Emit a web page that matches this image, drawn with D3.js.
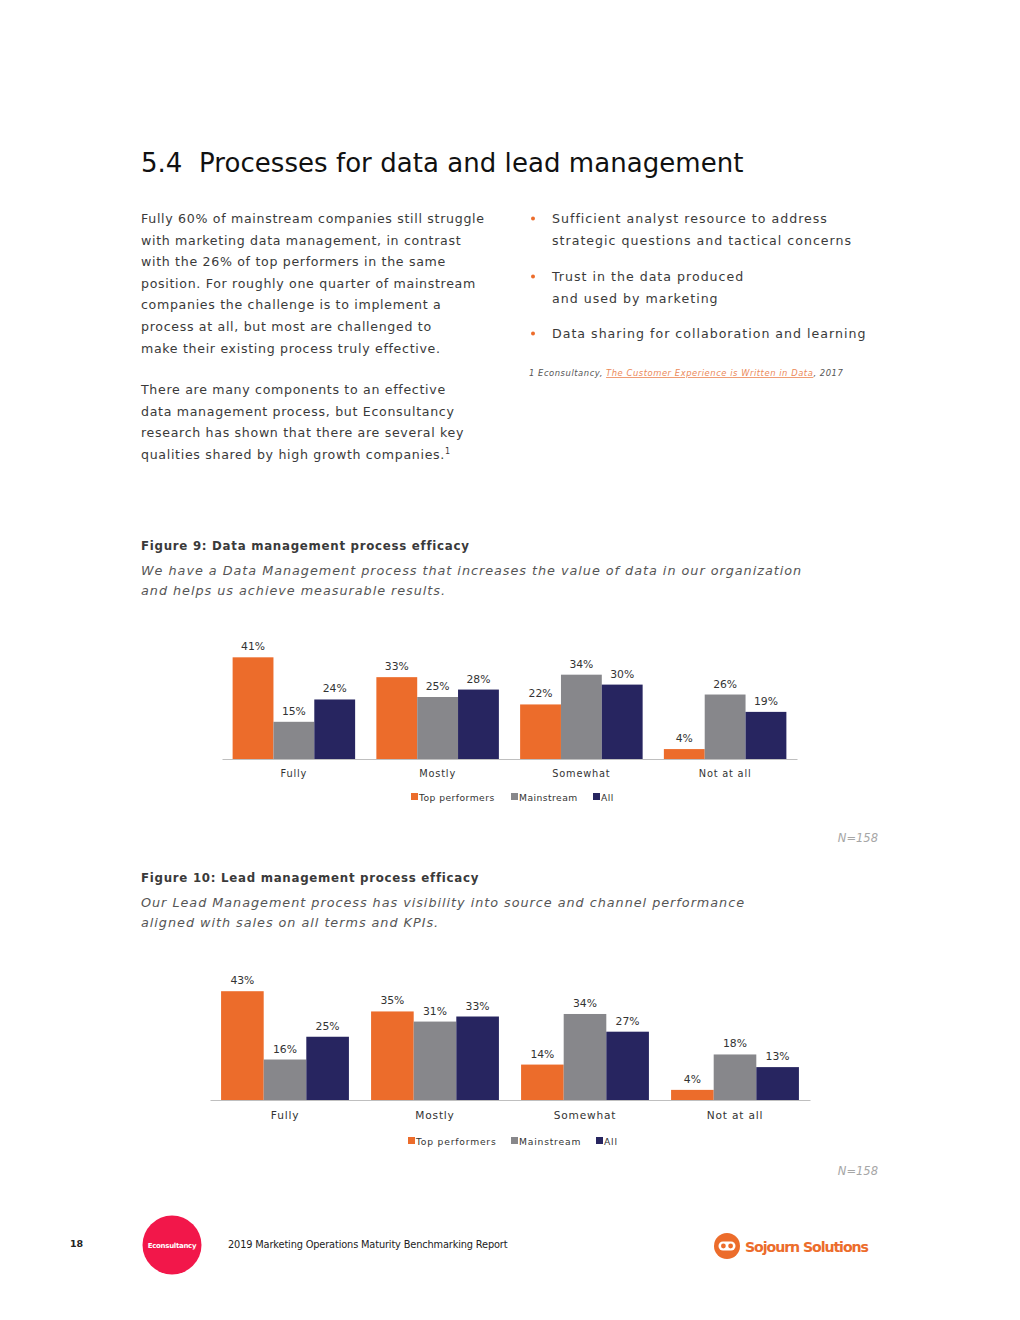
<!DOCTYPE html>
<html lang="en">
<head>
  <meta charset="UTF-8">
  <title>Processes for data and lead management</title>
  <style>
    html, body { margin: 0; padding: 0; background: #fff; }
    svg { display: block; }
  </style>
</head>
<body>
  <script src="https://d3js.org/d3.v7.min.js"></script>
  <script>
    const categories = ["Fully", "Mostly", "Somewhat", "Not at all"];
    const seriesNames = ["Top performers", "Mainstream", "All"];
    const seriesColors = ["#ec6c2b", "#87878b", "#272560"];

    // Figure 9: data management
    const fig9Top = [41, 33, 22, 4];
    const fig9Mainstream = [15, 25, 34, 26];
    const fig9All = [24, 28, 30, 19];

    // Figure 10: lead management
    const fig10Top = [43, 35, 14, 4];
    const fig10Mainstream = [16, 31, 34, 18];
    const fig10All = [25, 33, 27, 13];

    const [width, height] = [1020, 1320];
    const font = "'DejaVu Sans', sans-serif";
    const textColor = "#3a3a3a";

    const svg = d3
      .select(document.body)
      .append("svg")
      .attr("width", width)
      .attr("height", height)
      .attr("viewBox", [0, 0, width, height])
      .attr("font-family", font);

    // heading
    const h = svg.append("text")
      .attr("y", 172)
      .attr("font-size", 26)
      .attr("fill", "#111");
    h.append("tspan").attr("x", 141).text("5.4");
    h.append("tspan").attr("x", 199).attr("letter-spacing", 0.05).text("Processes for data and lead management");

    const addLines = (lines, x, y0, lh, attrs) => {
      const t = svg.append("g");
      lines.forEach((l, i) => {
        const s = t.append("text").attr("x", x).attr("y", y0 + i * lh).text(l);
        Object.entries(attrs).forEach(([k, v]) => s.attr(k, v));
      });
      return t;
    };

    const bodyAttrs = { "font-size": 12.6, fill: textColor, "letter-spacing": 0.68 };
    addLines([
      "Fully 60% of mainstream companies still struggle",
      "with marketing data management, in contrast",
      "with the 26% of top performers in the same",
      "position. For roughly one quarter of mainstream",
      "companies the challenge is to implement a",
      "process at all, but most are challenged to",
      "make their existing process truly effective."
    ], 141, 223, 21.6, bodyAttrs);

    const p2 = addLines([
      "There are many components to an effective",
      "data management process, but Econsultancy",
      "research has shown that there are several key",
      "qualities shared by high growth companies."
    ], 141, 394, 21.6, bodyAttrs);
    p2.select("text:last-child").append("tspan")
      .attr("font-size", 8).attr("dy", -5).text("1");

    // bullets
    const bullets = [
      ["Sufficient analyst resource to address", "strategic questions and tactical concerns"],
      ["Trust in the data produced", "and used by marketing"],
      ["Data sharing for collaboration and learning"]
    ];
    const bulletY = [223, 281, 338];
    const bulletAttrs = { ...bodyAttrs, "letter-spacing": 1.0 };
    bullets.forEach((b, i) => {
      svg.append("circle").attr("cx", 533).attr("cy", bulletY[i] - 4.5).attr("r", 2).attr("fill", "#ec6c2b");
      addLines(b, 552, bulletY[i], 21.6, bulletAttrs);
    });

    // footnote
    const fn = svg.append("text")
      .attr("x", 529).attr("y", 376)
      .attr("font-size", 8.4)
      .attr("font-style", "italic")
      .attr("fill", "#555")
      .attr("letter-spacing", 0.55);
    fn.append("tspan").text("1   Econsultancy, ");
    fn.append("tspan").attr("fill", "#ec8a5a").attr("text-decoration", "underline")
      .text("The Customer Experience is Written in Data");
    fn.append("tspan").text(", 2017");

    function drawFigure(cfg) {
      const { top, titleText, subtitle, values, baseline, left, right, pxPerPct, nY } = cfg;

      svg.append("text")
        .attr("x", 141).attr("y", top)
        .attr("font-size", 11.8).attr("font-weight", "bold")
        .attr("letter-spacing", 0.72)
        .attr("fill", "#3a3a3a")
        .text(titleText);
      addLines(subtitle, 141, top + 25, 20, {
        "font-size": 12.8, "font-style": "italic", fill: "#555", "letter-spacing": 0.97
      });

      const x0 = d3.scaleBand().domain(categories).range([left, right]).padding(0);
      const x1 = d3.scaleBand().domain(seriesNames).range([0, x0.bandwidth()]).paddingInner(0).paddingOuter(0.26);
      const yMax = 50;
      const y = d3.scaleLinear().domain([0, yMax]).range([baseline, baseline - yMax * pxPerPct]);

      const rows = categories.map((c, i) => ({
        category: c,
        vals: seriesNames.map((s, j) => ({ series: s, color: seriesColors[j], value: values[j][i] }))
      }));

      const g = svg.append("g");
      const groups = g.selectAll("g.grp")
        .data(rows)
        .join("g")
        .attr("class", "grp")
        .attr("transform", d => `translate(${x0(d.category)},0)`);

      groups.selectAll("rect")
        .data(d => d.vals)
        .join("rect")
        .attr("x", d => x1(d.series))
        .attr("y", d => y(d.value))
        .attr("width", x1.bandwidth())
        .attr("height", d => y(0) - y(d.value))
        .attr("fill", d => d.color);

      groups.selectAll("text.val")
        .data(d => d.vals)
        .join("text")
        .attr("class", "val")
        .attr("x", d => x1(d.series) + x1.bandwidth() / 2)
        .attr("y", d => y(d.value) - 7)
        .attr("text-anchor", "middle")
        .attr("font-size", 10.8)
        .attr("fill", "#333")
        .text(d => `${d.value}%`);

      g.append("g")
        .attr("transform", `translate(0,${baseline})`)
        .call(d3.axisBottom(x0).tickSize(0).tickPadding(11))
        .call(a => a.select(".domain").attr("stroke", "#bfbfbf").attr("stroke-width", 1))
        .call(a => a.selectAll("text")
          .attr("font-family", font)
          .attr("font-size", cfg.catSize)
          .attr("letter-spacing", 0.8)
          .attr("fill", "#333"));

      // legend
      const leg = g.append("g").attr("transform", `translate(0,${cfg.legendY})`);
      seriesNames.forEach((s, j) => {
        const lx = cfg.legendX[j];
        leg.append("rect").attr("x", lx).attr("y", -4).attr("width", 7).attr("height", 7).attr("fill", seriesColors[j]);
        leg.append("text").attr("x", lx + 8).attr("y", 3.5)
          .attr("font-size", cfg.legendSize).attr("fill", "#333").attr("letter-spacing", cfg.legendSpacing)
          .text(s);
      });

      svg.append("text")
        .attr("x", 878).attr("y", nY)
        .attr("text-anchor", "end")
        .attr("font-size", 11.5).attr("font-style", "italic")
        .attr("fill", "#a6a6a6")
        .text("N=158");
    }

    drawFigure({
      top: 550,
      titleText: "Figure 9: Data management process efficacy",
      subtitle: [
        "We have a Data Management process that increases the value of data in our organization",
        "and helps us achieve measurable results."
      ],
      values: [fig9Top, fig9Mainstream, fig9All],
      baseline: 759, left: 222, right: 797, pxPerPct: 2.48,
      catSize: 9.8, legendY: 797, legendX: [411, 511, 593], legendSize: 9.2, legendSpacing: 0.45,
      nY: 842
    });

    drawFigure({
      top: 882,
      titleText: "Figure 10: Lead management process efficacy",
      subtitle: [
        "Our Lead Management process has visibility into source and channel performance",
        "aligned with sales on all terms and KPIs."
      ],
      values: [fig10Top, fig10Mainstream, fig10All],
      baseline: 1100, left: 210, right: 810, pxPerPct: 2.53,
      catSize: 10.6, legendY: 1141, legendX: [408, 511, 596], legendSize: 9.2, legendSpacing: 0.8,
      nY: 1175
    });

    // footer
    svg.append("text").attr("x", 70).attr("y", 1247)
      .attr("font-size", 9.5).attr("font-weight", "bold").attr("fill", "#222").text("18");
    svg.append("circle").attr("cx", 172).attr("cy", 1245).attr("r", 29.5).attr("fill", "#f2174a");
    svg.append("text").attr("x", 172).attr("y", 1248).attr("text-anchor", "middle")
      .attr("font-size", 7).attr("font-weight", "bold").attr("fill", "#fff")
      .attr("letter-spacing", -0.3).text("Econsultancy");
    svg.append("text").attr("x", 228).attr("y", 1248)
      .attr("font-size", 9.8).attr("fill", "#222").attr("letter-spacing", -0.15)
      .text("2019 Marketing Operations Maturity Benchmarking Report");

    // Sojourn Solutions logo
    const logo = svg.append("g").attr("transform", "translate(727,1246)");
    logo.append("circle").attr("r", 13).attr("fill", "#ec6c2b");
    logo.append("rect").attr("x", -8.5).attr("y", -4.5).attr("width", 17).attr("height", 9).attr("rx", 4.5).attr("fill", "#fff");
    logo.append("circle").attr("cx", -3.6).attr("cy", 0).attr("r", 2.4).attr("fill", "#ec6c2b");
    logo.append("circle").attr("cx", 3.6).attr("cy", 0).attr("r", 2.4).attr("fill", "#ec6c2b");
    svg.append("text").attr("x", 745).attr("y", 1252)
      .attr("font-size", 14.2).attr("font-weight", "bold").attr("fill", "#ec6c2b")
      .attr("letter-spacing", -1.1)
      .text("Sojourn Solutions");
  </script>
</body>
</html>
